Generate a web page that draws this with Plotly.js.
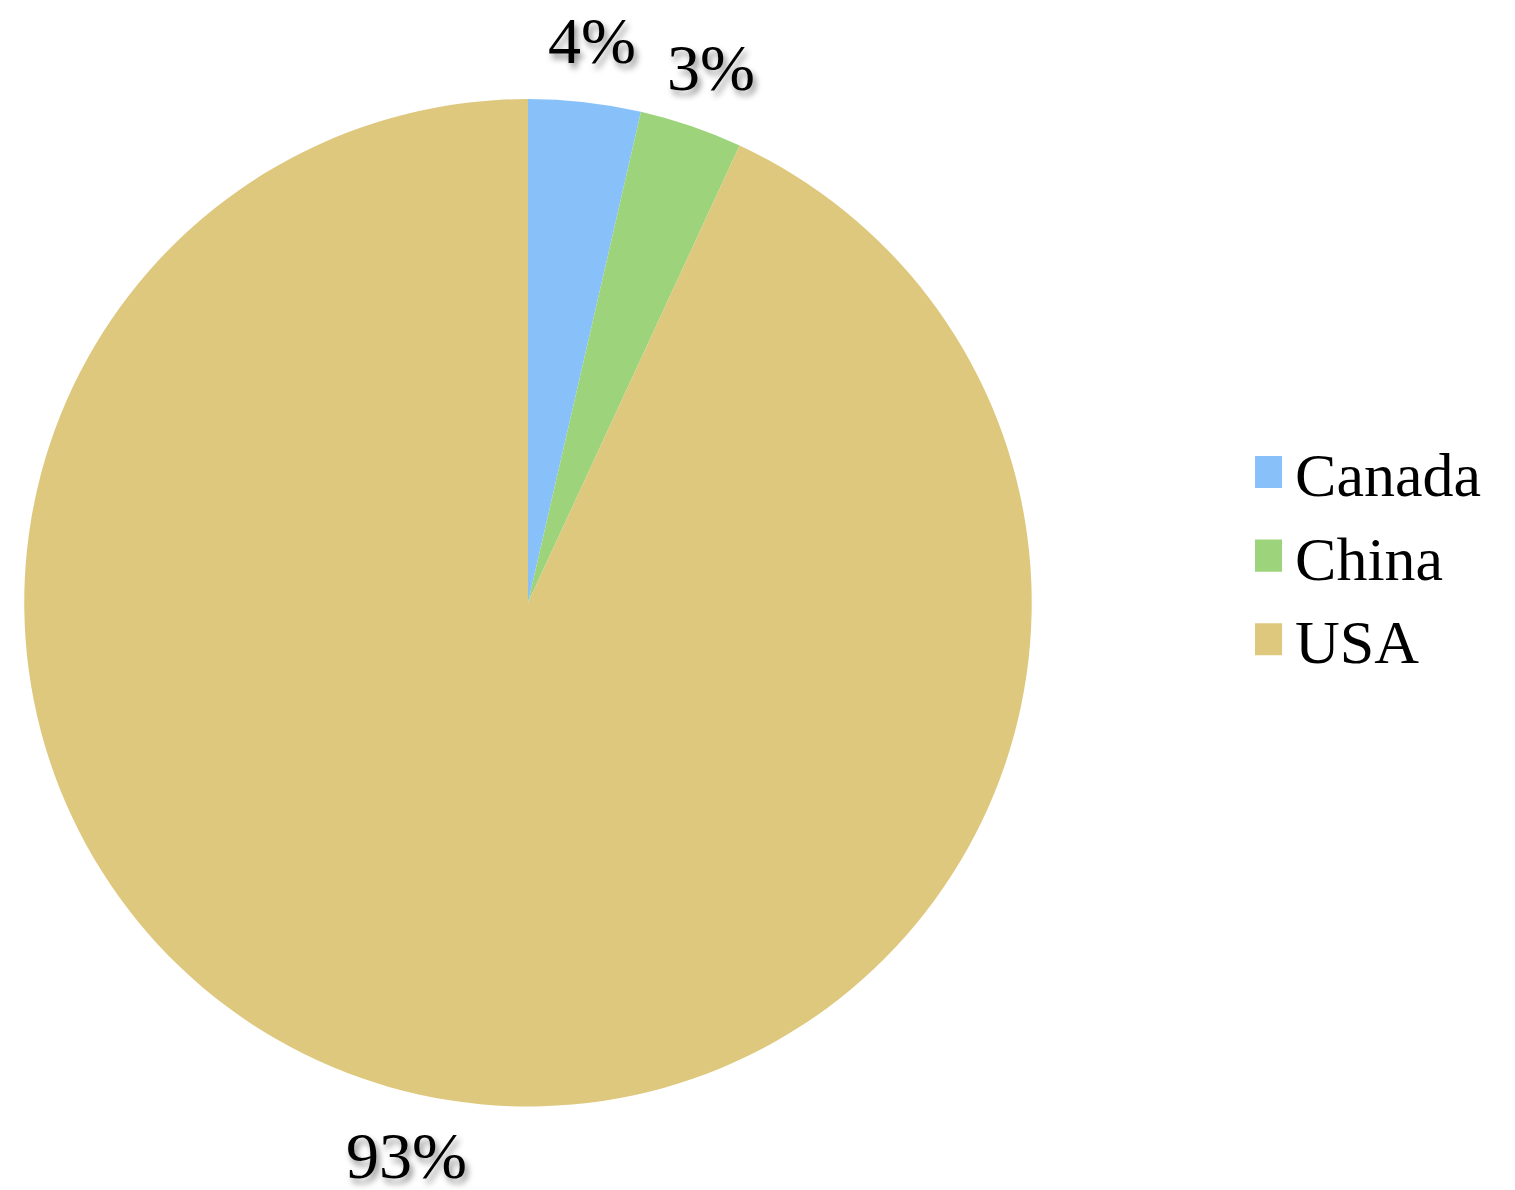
<!DOCTYPE html>
<html>
<head>
<meta charset="utf-8">
<script src="https://cdn.plot.ly/plotly-3.0.1.min.js"></script>
<style>html,body{margin:0;padding:0;background:#fff;}</style>
</head>
<body>
<div id="chart" style="width:1515px;height:1190px;"></div>
<script>
var countries = ["Canada", "China", "USA"];
var shares = [3.6, 3.3, 93.1];
var sliceColors = ["#88C1F9", "#9CD37B", "#DEC87D"];

var W = 1515, H = 1190;
var pieDomain = {x: [0.016, 0.681], y: [0.07, 0.917]};

var trace = {
  type: "pie",
  labels: countries,
  values: shares,
  sort: false,
  direction: "clockwise",
  rotation: 0,
  marker: {colors: sliceColors, line: {width: 0}},
  textinfo: "none",
  domain: pieDomain,
  hoverinfo: "label+percent"
};

// percent labels placed outside each slice, at the slice's mid angle
var total = shares.reduce(function (a, b) { return a + b; }, 0);
var cxPx = (pieDomain.x[0] + pieDomain.x[1]) / 2 * W;
var cyPx = (1 - (pieDomain.y[0] + pieDomain.y[1]) / 2) * H;
var Rpx = Math.min((pieDomain.x[1] - pieDomain.x[0]) * W, (pieDomain.y[1] - pieDomain.y[0]) * H) / 2;
var labelDist = Rpx + 62;
var annotations = [];
var cum = 0;
shares.forEach(function (v) {
  var mid = (cum + v / 2) / total * 2 * Math.PI;
  cum += v;
  var px = cxPx + labelDist * Math.sin(mid);
  var py = cyPx - labelDist * Math.cos(mid);
  annotations.push({
    xref: "paper", yref: "paper",
    x: px / W, y: 1 - py / H,
    xanchor: "center", yanchor: "middle",
    showarrow: false,
    text: Math.round(v / total * 100) + "%",
    font: {family: "Liberation Serif", size: 66, color: "#000", shadow: "3px 5px 6px rgba(0,0,0,0.45)"}
  });
});

var layout = {
  width: W,
  height: H,
  margin: {l: 0, r: 0, t: 0, b: 0},
  paper_bgcolor: "#fff",
  showlegend: true,
  annotations: annotations,
  legend: {
    x: 0.8284, y: 0.533, xanchor: "left", yanchor: "middle",
    font: {family: "Liberation Serif", size: 62, color: "#000"},
    itemwidth: 30
  }
};

var gd = document.getElementById("chart");
function enlargeLegendSymbols() {
  var pts = gd.querySelectorAll(".legend .legendpoints path");
  pts.forEach(function (p) {
    p.setAttribute("transform", "translate(11,0) scale(2.67)");
  });
}
Plotly.newPlot(gd, [trace], layout, {displayModeBar: false}).then(function () {
  enlargeLegendSymbols();
  gd.on("plotly_afterplot", enlargeLegendSymbols);
});
</script>
</body>
</html>
